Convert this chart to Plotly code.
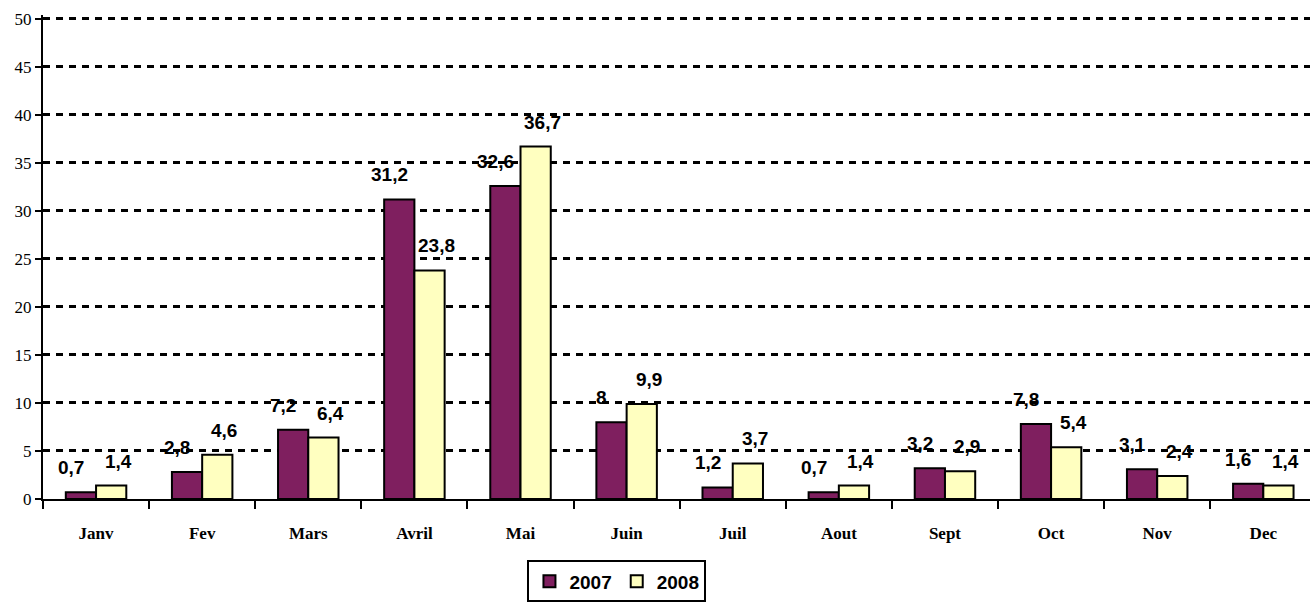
import plotly.graph_objects as go

months = ["Janv", "Fev", "Mars", "Avril", "Mai", "Juin", "Juil", "Aout", "Sept", "Oct", "Nov", "Dec"]
s2007 = [0.7, 2.8, 7.2, 31.2, 32.6, 8, 1.2, 0.7, 3.2, 7.8, 3.1, 1.6]
s2008 = [1.4, 4.6, 6.4, 23.8, 36.7, 9.9, 3.7, 1.4, 2.9, 5.4, 2.4, 1.4]
y_ticks = [0, 5, 10, 15, 20, 25, 30, 35, 40, 45, 50]

def fmt(v):
    s = ("%g" % v)
    return s.replace(".", ",")

fig = go.Figure()
fig.add_trace(go.Bar(x=months, y=s2007, name="<b>2007</b>",
                     marker=dict(color="#7F1F5F", line=dict(color="black", width=2))))
fig.add_trace(go.Bar(x=months, y=s2008, name="<b>2008</b>",
                     marker=dict(color="#FFFFC0", line=dict(color="black", width=2))))

lab_font = dict(family="Liberation Sans, Arial", size=19, color="black")
annots = []
for i, m in enumerate(months):
    annots.append(dict(x=i, y=s2007[i], xref="x", yref="y", text="<b>" + fmt(s2007[i]) + "</b>",
                       showarrow=False, yanchor="bottom", xshift=-25, yshift=12, font=lab_font))
    annots.append(dict(x=i, y=s2008[i], xref="x", yref="y", text="<b>" + fmt(s2008[i]) + "</b>",
                       showarrow=False, yanchor="bottom", xshift=22, yshift=12, font=lab_font))

fig.update_layout(
    width=1310, height=603,
    margin=dict(l=43, r=0, t=15, b=97),
    paper_bgcolor="white", plot_bgcolor="white",
    barmode="group", bargap=0.43, bargroupgap=0,
    showlegend=True,
    legend=dict(orientation="h", x=0.453, xanchor="center", y=-0.127, yanchor="top",
                bordercolor="black", borderwidth=2, bgcolor="white",
                font=dict(family="Liberation Sans, Arial", size=19, color="black"),
                itemwidth=30, tracegroupgap=0),
    annotations=annots,
    xaxis=dict(range=[-0.5, 11.44], showline=True, linecolor="black", linewidth=2,
               automargin=False,
               ticks="outside", tickson="boundaries", ticklen=8, tickwidth=2, tickcolor="black",
               ticklabelstandoff=18,
               tickfont=dict(family="Liberation Serif, Times New Roman", size=17, color="black", weight="bold"),
               showgrid=False, zeroline=False),
    yaxis=dict(range=[0, 50.4], tickvals=y_ticks, showline=True, linecolor="black", linewidth=2,
               automargin=False,
               ticks="outside", ticklen=6, tickwidth=2, tickcolor="black",
               tickfont=dict(family="Liberation Serif, Times New Roman", size=17, color="black"),
               showgrid=True, gridcolor="black", gridwidth=2.5, griddash="7px,6px",
               zeroline=False),
)

fig.write_html("out.html", config={"displayModeBar": False},
               post_script="document.body.style.margin='0';")
